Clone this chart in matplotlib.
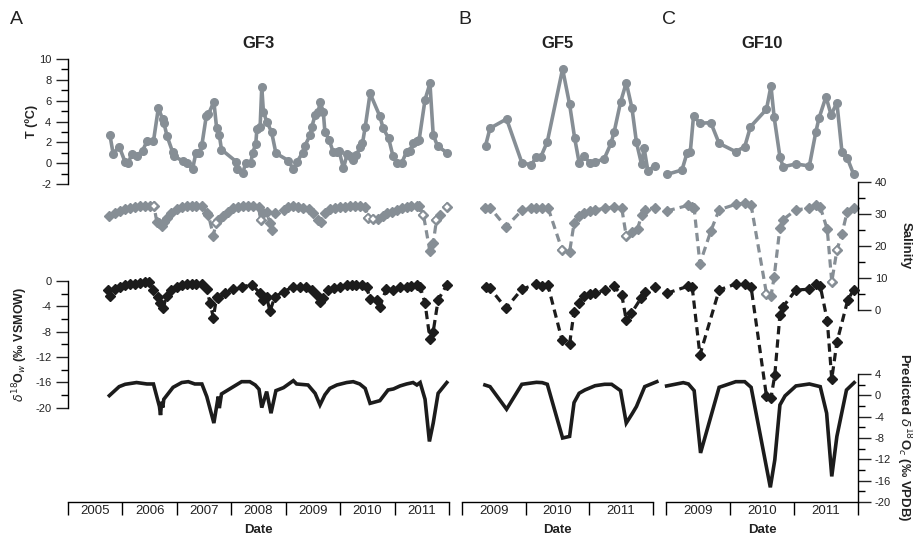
import matplotlib.pyplot as plt
from matplotlib.ticker import FixedLocator, NullLocator

plt.rcParams['font.family'] = ['Liberation Sans', 'DejaVu Sans']
plt.rcParams['axes.unicode_minus'] = False

# ---------------- data (decimal years) ----------------
# GF3
gf3_t_year = [2005.77, 2005.83, 2005.94, 2006.05, 2006.11, 2006.17, 2006.26, 2006.37, 2006.45, 2006.57,
              2006.66, 2006.74, 2006.76, 2006.82, 2006.92, 2006.94, 2007.11, 2007.18, 2007.29, 2007.35,
              2007.41, 2007.46, 2007.54, 2007.58, 2007.68, 2007.73, 2007.78, 2007.82, 2008.09, 2008.11,
              2008.21, 2008.27, 2008.36, 2008.39, 2008.45, 2008.47, 2008.53, 2008.56, 2008.59, 2008.65,
              2008.74, 2008.82, 2009.05, 2009.14, 2009.21, 2009.31, 2009.35, 2009.45, 2009.48, 2009.54,
              2009.60, 2009.63, 2009.69, 2009.72, 2009.80, 2009.87, 2009.95, 2009.98, 2010.06, 2010.13,
              2010.18, 2010.24, 2010.30, 2010.37, 2010.41, 2010.46, 2010.55, 2010.73, 2010.79, 2010.89,
              2010.97, 2011.04, 2011.13, 2011.22, 2011.28, 2011.34, 2011.41, 2011.45, 2011.56, 2011.65,
              2011.71, 2011.79, 2011.96]
gf3_t = [2.7, 0.9, 1.6, 0.1, 0.0, 0.9, 0.7, 1.2, 2.1, 2.1,
         5.3, 4.2, 3.9, 2.6, 1.1, 0.7, 0.2, 0.0, -0.55, 1.0,
         1.0, 1.75, 4.5, 4.7, 5.9, 3.4, 2.7, 1.3, 0.15, -0.6,
         -0.9, 0.05, 0.05, 0.95, 1.85, 3.25, 3.5, 7.3, 4.95, 4.0,
         3.0, 0.95, 0.25, -0.6, 0.15, 1.0, 1.65, 2.7, 3.5, 4.6,
         4.95, 5.9, 4.95, 3.0, 2.2, 1.1, 1.1, 1.2, -0.5, 0.9,
         0.7, 0.3, 0.8, 1.6, 1.9, 3.45, 6.7, 4.5, 3.35, 2.4,
         0.7, 0.0, 0.0, 1.1, 1.2, 1.9, 2.1, 2.2, 6.1, 7.65,
         2.7, 1.65, 1.0]

gf3_sal_year = [2005.76, 2005.86, 2005.96, 2006.05, 2006.14, 2006.23, 2006.32, 2006.41, 2006.51, 2006.58,
                2006.63, 2006.68, 2006.72, 2006.76, 2006.81, 2006.90, 2007.00, 2007.09, 2007.18, 2007.27,
                2007.36, 2007.46, 2007.55, 2007.58, 2007.67, 2007.72, 2007.76, 2007.85, 2007.94, 2008.04,
                2008.13, 2008.22, 2008.31, 2008.40, 2008.50, 2008.54, 2008.59, 2008.65, 2008.71, 2008.74,
                2008.80, 2008.96, 2009.05, 2009.14, 2009.23, 2009.32, 2009.42, 2009.51, 2009.60, 2009.64,
                2009.72, 2009.81, 2009.91, 2010.00, 2010.09, 2010.18, 2010.27, 2010.36, 2010.46, 2010.52,
                2010.61, 2010.70, 2010.79, 2010.87, 2010.95, 2011.04, 2011.13, 2011.22, 2011.31, 2011.41,
                2011.45, 2011.53, 2011.65, 2011.71, 2011.77, 2011.83, 2011.96]
gf3_sal = [29.4, 30.2, 31.0, 31.6, 32.0, 32.3, 32.5, 32.6, 32.6, 32.5,
           27.6, 27.1, 26.3, 27.6, 28.6, 30.2, 31.4, 32.3, 32.6, 32.6,
           32.6, 32.5, 30.2, 29.7, 23.2, 27.1, 28.1, 29.4, 30.5, 31.7,
           32.3, 32.6, 32.6, 32.6, 32.3, 28.1, 30.2, 30.7, 27.1, 24.8,
           30.2, 31.2, 32.3, 32.6, 32.3, 31.7, 31.4, 30.4, 28.1, 27.4,
           30.2, 31.4, 32.0, 32.1, 32.3, 32.6, 32.6, 32.5, 32.1, 28.6,
           28.3, 28.3, 29.4, 30.2, 30.7, 31.2, 31.7, 32.3, 32.6, 32.6,
           32.6, 29.7, 18.2, 20.8, 28.1, 29.7, 32.1]
gf3_sal_open = [9, 25, 35, 59, 60, 71, 74, 76]

gf3_dow_year = [2005.74, 2005.77, 2005.86, 2005.96, 2006.05, 2006.14, 2006.23, 2006.32, 2006.41, 2006.48,
                2006.57, 2006.66, 2006.69, 2006.75, 2006.81, 2006.90, 2007.00, 2007.09, 2007.18, 2007.27,
                2007.36, 2007.46, 2007.55, 2007.61, 2007.67, 2007.73, 2007.76, 2007.88, 2008.04, 2008.19,
                2008.38, 2008.53, 2008.59, 2008.65, 2008.71, 2008.80, 2008.96, 2009.14, 2009.26, 2009.38,
                2009.48, 2009.57, 2009.63, 2009.69, 2009.78, 2009.88, 2010.00, 2010.12, 2010.21, 2010.30,
                2010.40, 2010.49, 2010.55, 2010.67, 2010.73, 2010.85, 2010.98, 2011.10, 2011.22, 2011.31,
                2011.41, 2011.47, 2011.56, 2011.65, 2011.71, 2011.80, 2011.96]
gf3_dow = [-1.5, -2.4, -1.2, -0.9, -0.6, -0.5, -0.4, -0.3, -0.15, -0.1,
           -1.4, -2.6, -3.5, -4.3, -2.3, -1.4, -1.0, -0.7, -0.5, -0.5,
           -0.5, -0.5, -1.3, -3.5, -5.8, -2.6, -2.7, -1.95, -1.3, -0.9,
           -0.6, -1.95, -3.0, -2.5, -4.8, -2.5, -1.7, -0.9, -0.9, -1.0,
           -1.4, -2.2, -3.3, -2.7, -1.4, -1.05, -0.9, -0.7, -0.6, -0.6,
           -0.7, -1.0, -2.9, -3.0, -4.05, -1.2, -1.4, -1.0, -0.9, -0.8,
           -0.6, -0.9, -3.5, -9.2, -8.0, -3.0, -0.6]

gf3_doc_year = [2005.76, 2005.94, 2006.05, 2006.26, 2006.45, 2006.57, 2006.68, 2006.70, 2006.72, 2006.74,
                2006.76, 2006.93, 2007.09, 2007.21, 2007.33, 2007.46, 2007.55, 2007.68, 2007.76, 2007.78,
                2007.82, 2008.04, 2008.19, 2008.34, 2008.44, 2008.51, 2008.56, 2008.65, 2008.73, 2008.82,
                2008.96, 2009.14, 2009.20, 2009.41, 2009.54, 2009.63, 2009.72, 2009.81, 2009.94, 2010.12,
                2010.24, 2010.36, 2010.46, 2010.55, 2010.73, 2010.88, 2010.98, 2011.10, 2011.22, 2011.34,
                2011.41, 2011.47, 2011.56, 2011.64, 2011.71, 2011.80, 2011.96]
gf3_doc = [-0.05, 1.63, 2.07, 2.4, 2.13, 2.13, -2.1, -3.7, -1.2, -2.3,
           -0.74, 1.5, 2.4, 2.56, 2.13, 2.13, -0.24, -5.2, -0.24, -2.4,
           0.26, 1.63, 2.56, 2.56, 1.94, 1.13, -2.3, 0.7, -3.35, 0.88,
           1.44, 2.75, 2.13, 1.94, 0.38, -1.8, 0.1, 1.3, 1.94, 2.4,
           2.56, 2.13, 1.3, -1.5, -1.0, 1.0, 1.2, 1.76, 2.13, 2.4,
           1.94, 2.4, -0.74, -8.65, -5.2, 0.38, 2.4]

# GF5
gf5_t_year = [2009.37, 2009.44, 2009.70, 2009.94, 2010.09, 2010.17, 2010.24, 2010.34, 2010.58, 2010.69,
              2010.77, 2010.84, 2010.92, 2011.01, 2011.09, 2011.23, 2011.34, 2011.39, 2011.49, 2011.58,
              2011.67, 2011.74, 2011.82, 2011.86, 2011.92, 2012.03]
gf5_t = [1.68, 3.35, 4.24, 0.05, -0.17, 0.63, 0.63, 2.06, 9.04, 5.65,
         2.39, 0.05, 0.69, -0.01, 0.14, 0.37, 1.9, 3.0, 5.84, 7.73,
         5.27, 2.0, -0.1, 1.43, -0.75, -0.24]

gf5_sal_year = [2009.36, 2009.44, 2009.69, 2009.94, 2010.08, 2010.17, 2010.26, 2010.35, 2010.57, 2010.69,
                2010.76, 2010.84, 2010.92, 2011.01, 2011.09, 2011.24, 2011.38, 2011.51, 2011.58, 2011.67,
                2011.76, 2011.82, 2011.87, 2012.03]
gf5_sal = [31.7, 32.0, 25.9, 31.1, 31.7, 32.0, 32.0, 32.0, 18.8, 18.1,
           27.0, 29.2, 30.3, 30.9, 31.3, 31.7, 32.2, 31.7, 23.0, 24.3,
           25.4, 29.6, 31.3, 32.0]
gf5_sal_open = [8, 18]

gf5_dow_year = [2009.37, 2009.44, 2009.69, 2009.94, 2010.17, 2010.26, 2010.35, 2010.57, 2010.69, 2010.76,
                2010.84, 2010.92, 2011.01, 2011.09, 2011.24, 2011.38, 2011.51, 2011.58, 2011.66, 2011.81,
                2011.87, 2012.03]
gf5_dow = [-1.0, -1.15, -4.3, -1.3, -0.47, -0.8, -0.68, -9.3, -9.95, -4.85,
           -3.4, -2.37, -2.05, -1.95, -1.42, -0.79, -2.2, -6.2, -5.1, -2.74,
           -1.68, -0.9]

gf5_doc_year = [2009.36, 2009.44, 2009.70, 2009.94, 2010.17, 2010.26, 2010.34, 2010.58, 2010.69, 2010.76,
                2010.84, 2010.93, 2011.09, 2011.24, 2011.35, 2011.49, 2011.58, 2011.67, 2011.74, 2011.87,
                2012.06]
gf5_doc = [1.94, 1.63, -2.6, 2.07, 2.44, 2.38, 2.07, -8.0, -7.7, -1.36,
           0.39, 1.0, 1.8, 2.07, 2.07, 0.88, -5.2, -3.5, -2.1, 1.63,
           2.56]

# GF10
gf10_t_year = [2009.02, 2009.25, 2009.33, 2009.38, 2009.43, 2009.53, 2009.70, 2009.83, 2010.09, 2010.23,
               2010.32, 2010.57, 2010.64, 2010.69, 2010.78, 2010.83, 2011.03, 2011.24, 2011.34, 2011.39,
               2011.50, 2011.58, 2011.67, 2011.75, 2011.83, 2011.93]
gf10_t = [-1.07, -0.65, 1.0, 1.1, 4.53, 3.83, 3.89, 1.9, 1.1, 1.58,
          3.5, 5.17, 7.41, 4.4, 0.62, -0.34, -0.08, -0.27, 2.96, 4.31,
          6.38, 4.63, 5.81, 1.04, 0.53, -1.04]

gf10_sal_year = [2009.01, 2009.35, 2009.40, 2009.44, 2009.53, 2009.70, 2009.83, 2010.09, 2010.23, 2010.33,
                 2010.57, 2010.64, 2010.69, 2010.78, 2010.83, 2011.03, 2011.24, 2011.35, 2011.41, 2011.52,
                 2011.59, 2011.67, 2011.75, 2011.83, 2011.93]
gf10_sal = [30.9, 32.7, 32.2, 31.7, 14.4, 24.6, 31.3, 33.0, 33.4, 32.7,
            5.0, 4.2, 10.2, 25.7, 28.2, 31.3, 31.7, 32.7, 32.2, 25.1,
            8.65, 18.6, 23.8, 30.6, 32.0]
gf10_sal_open = [10, 20, 21]

gf10_dow_year = [2009.01, 2009.35, 2009.41, 2009.53, 2009.83, 2010.09, 2010.23, 2010.33, 2010.57, 2010.64,
                 2010.70, 2010.78, 2010.83, 2011.03, 2011.24, 2011.35, 2011.41, 2011.52, 2011.59, 2011.67,
                 2011.84, 2011.93]
gf10_dow = [-1.95, -0.8, -1.0, -11.7, -1.42, -0.47, -0.47, -1.0, -18.2, -18.5,
            -14.85, -5.37, -4.06, -1.42, -1.3, -0.47, -0.79, -6.26, -15.5, -9.7,
            -3.0, -1.42]

gf10_doc_year = [2009.01, 2009.27, 2009.35, 2009.44, 2009.54, 2009.83, 2010.09, 2010.23, 2010.33, 2010.63,
                 2010.70, 2010.78, 2010.86, 2011.03, 2011.24, 2011.41, 2011.51, 2011.59, 2011.67, 2011.82,
                 2011.94]
gf10_doc = [1.76, 2.38, 2.13, 0.88, -10.8, 1.5, 2.56, 2.56, 1.5, -17.25,
            -12.1, -1.8, -0.1, 1.76, 2.13, 1.63, -3.35, -15.2, -7.7, 1.0,
            2.38]

# ---------------- layout ----------------
W, H = 913, 535
TOP, BOT = 59, 502
GREY = '#868e95'
BLACK = '#1c1c1c'


def band(v_a, p_a, v_b, p_b):
    # y limits so that value v_a sits at pixel row p_a and v_b at p_b
    k = (v_a - v_b) / (p_a - p_b)
    return v_a + k * (BOT - p_a), v_a + k * (TOP - p_a)


fig = plt.figure(figsize=(W / 100, H / 100), dpi=100)


def panel(x0, x1, start, end, title, letter):
    ax = fig.add_axes([x0 / W, 1 - BOT / H, (x1 - x0) / W, (BOT - TOP) / H])
    ax.patch.set_visible(False)
    ax.set_xlim(start, end)
    ax.set_ylim(0, 1)
    for s in ['top', 'left', 'right']:
        ax.spines[s].set_visible(False)
    ax.spines['bottom'].set_linewidth(1.0)
    ax.set_yticks([])
    years = list(range(start, end + 1))
    ax.xaxis.set_major_locator(FixedLocator(years))
    ax.xaxis.set_minor_locator(FixedLocator([y + 0.5 for y in years[:-1]]))
    ax.set_xticklabels([])
    ax.set_xticklabels([str(y) for y in years[:-1]], minor=True)
    ax.tick_params(axis='x', which='major', length=9.5, width=1.0, direction='out')
    ax.tick_params(axis='x', which='minor', length=0, labelsize=9.5, pad=2.5, colors='#222222')
    fig.text((x0 + x1) / 2 / W, 1 - 530 / H, 'Date', ha='center', va='center',
             fontsize=9.5, fontweight='bold', color='#222222')
    fig.text((x0 + x1) / 2 / W, 1 - 43 / H, title, ha='center', va='center',
             fontsize=12, fontweight='bold', color='#222222')
    fig.text((x0 - 4 if letter != 'A' else 10) / W, 1 - 20 / H, letter, ha='left', va='center',
             fontsize=14, color='#222222')

    twins = {}
    for key, lim in [('t', band(10, 59, -2, 184)), ('sal', band(40, 182, 0, 309.5)),
                     ('dow', band(0, 281, -20, 407.5)), ('doc', band(4, 374, -20, 502))]:
        tw = ax.twinx()
        tw.set_ylim(*lim)
        for s in tw.spines.values():
            s.set_visible(False)
        tw.yaxis.set_major_locator(NullLocator())
        tw.yaxis.set_minor_locator(NullLocator())
        twins[key] = tw
    return ax, twins


def yaxis(tw, side, lo, hi, major, minor):
    sp = tw.spines[side]
    sp.set_visible(True)
    sp.set_bounds(lo, hi)
    sp.set_linewidth(1.0)
    if side == 'left':
        tw.yaxis.tick_left()
    else:
        tw.yaxis.tick_right()
    tw.yaxis.set_major_locator(FixedLocator(major))
    tw.yaxis.set_minor_locator(FixedLocator(minor))
    tw.set_yticklabels([str(v) for v in major])
    tw.tick_params(axis='y', which='major', length=9, width=1.0, labelsize=8, pad=3, colors='#222222')
    tw.tick_params(axis='y', which='minor', length=5, width=1.0)


def draw(tw, t_year, t, sal_year, sal, sal_open, dow_year, dow, doc_year, doc):
    tw['doc'].plot(doc_year, doc, color=BLACK, lw=2.6, clip_on=False, solid_joinstyle='miter')
    tw['dow'].plot(dow_year, dow, color=BLACK, lw=2.3, ls=(0, (2.6, 1.6)), marker='D', ms=5,
                   clip_on=False)
    tw['sal'].plot(sal_year, sal, color=GREY, lw=2.3, ls=(0, (2.6, 1.6)), marker='D', ms=5,
                   clip_on=False)
    tw['sal'].plot([sal_year[i] for i in sal_open], [sal[i] for i in sal_open], ls='none',
                   marker='D', ms=4.5, mfc='white', mec=GREY, mew=1.2, clip_on=False)
    tw['t'].plot(t_year, t, color=GREY, lw=2.6, marker='o', ms=5.5, clip_on=False)


ax3, tw3 = panel(68, 449, 2005, 2012, 'GF3', 'A')
ax5, tw5 = panel(462, 653, 2009, 2012, 'GF5', 'B')
ax10, tw10 = panel(666, 858, 2009, 2012, 'GF10', 'C')

draw(tw3, gf3_t_year, gf3_t, gf3_sal_year, gf3_sal, gf3_sal_open,
     gf3_dow_year, gf3_dow, gf3_doc_year, gf3_doc)
draw(tw5, gf5_t_year, gf5_t, gf5_sal_year, gf5_sal, gf5_sal_open,
     gf5_dow_year, gf5_dow, gf5_doc_year, gf5_doc)
draw(tw10, gf10_t_year, gf10_t, gf10_sal_year, gf10_sal, gf10_sal_open,
     gf10_dow_year, gf10_dow, gf10_doc_year, gf10_doc)

# axes with numbers
yaxis(tw3['t'], 'left', -2, 10, list(range(-2, 11, 2)), list(range(-1, 10, 2)))
yaxis(tw3['dow'], 'left', -20, 0, list(range(-20, 1, 4)), list(range(-18, 0, 4)))
yaxis(tw10['sal'], 'right', 0, 40, list(range(0, 41, 10)), list(range(5, 40, 10)))
yaxis(tw10['doc'], 'right', -20, 4, list(range(-20, 5, 4)), list(range(-18, 3, 4)))

fig.text(32 / W, 1 - 121.5 / H, 'T (ºC)', rotation=90, ha='center', va='center',
         fontsize=9, fontweight='bold', color='#222222')
fig.text(20 / W, 1 - 344 / H, r'$\delta^{18}$O$_w$ (‰ VSMOW)', rotation=90, ha='center',
         va='center', fontsize=9, fontweight='bold', color='#222222')
fig.text(906 / W, 1 - 246 / H, 'Salinity', rotation=270, ha='center', va='center',
         fontsize=9.5, fontweight='bold', color='#222222')
fig.text(904 / W, 1 - 437 / H, r'Predicted $\delta^{18}$O$_c$ (‰ VPDB)', rotation=270,
         ha='center', va='center', fontsize=9.5, fontweight='bold', color='#222222')

fig.savefig('out.png', dpi=100)
